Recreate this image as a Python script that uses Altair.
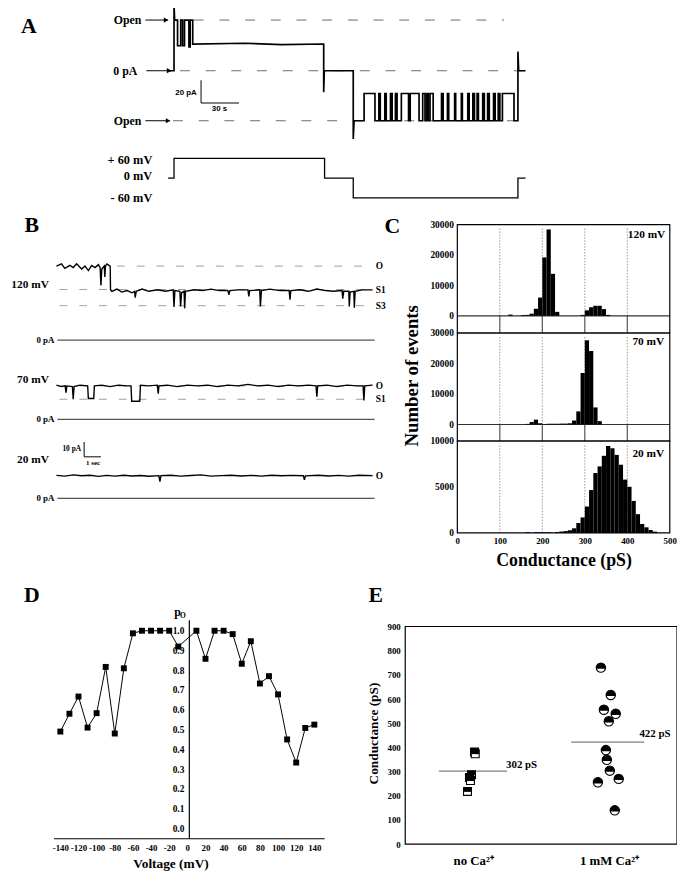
import altair as alt
import pandas as pd

SERIF = "Liberation Serif"
SANS = "Liberation Sans"
M = 8            # page margin
W, H = 677, 868  # chart size

# ------------------------------------------------------------------ data
# Panel A: current trace (time s, current pA)
A_HEAD = [(0, 0), (4.7, 0), (4.7, 58), (5.2, 44.6), (7.5, 44.6), (7.5, 22), (10.0, 22),
          (10.0, 44.6), (11.5, 44.6), (11.5, 22), (13.0, 22), (13.0, 44.6), (16.5, 44.6),
          (16.5, 21), (17.5, 21), (17.5, 44.6), (19.5, 44.6), (19.5, 23.5), (60, 24.2),
          (90, 23.0), (123.2, 23.5), (123.2, -19), (123.7, 0), (146.6, 0), (146.6, -60),
          (147.3, -44)]
A_BURST_START = [155.2, 166.9, 171.6, 176.1, 180.0, 184.7, 191.7, 201.6, 204.8, 207.4, 216.5,
                 221.2, 226.9, 232.2, 237.3, 241.3, 244.7, 249.1, 253.0, 257.7, 261.4, 264.7]
A_BURST_END = [163.8, 168.0, 172.7, 177.4, 181.3, 190.4, 198.7, 203.4, 206.0, 209.9, 217.8,
               222.2, 227.7, 233.0, 238.4, 242.6, 245.7, 250.4, 254.3, 259.0, 262.7, 273.9]
A_OPEN_NEG, A_CLOSED_NEG = -44, -20
A_TAIL = [(277.0, -44), (277.0, 17), (277.6, 0), (283, 0)]
A_VOLT = [(0, 0), (4.7, 0), (4.7, 60), (123.9, 60), (123.9, 0), (146.6, 0), (146.6, -60),
          (277, -60), (277, 0), (283, 0)]

# Panel B: traces (time s, current pA)
B120 = [(0, 50), (0.3, 51.5), (0.5, 48.5), (0.8, 50.5), (1.0, 49), (1.2, 51.5), (1.5, 48),
        (1.7, 50), (1.9, 47), (2.1, 50.5), (2.3, 49), (2.5, 51), (2.6, 49), (2.65, 37),
        (2.7, 48), (2.85, 50), (2.88, 42.7), (2.92, 50), (3.0, 51.5), (3.2, 50), (3.22, 34),
        (3.3, 33), (3.6, 34.5), (3.9, 32.5), (4.2, 33.5), (4.5, 32), (4.65, 33), (4.69, 28.7),
        (4.75, 33), (5.1, 34.5), (5.5, 33), (6.0, 34), (6.5, 33), (6.95, 34), (7.0, 22.5),
        (7.05, 33.5), (7.35, 33), (7.39, 22.7), (7.45, 32), (7.6, 33), (7.63, 21.5), (7.68, 33),
        (8.2, 34), (8.7, 33.5), (9.2, 34.5), (9.7, 33.5), (10.2, 33.5), (10.27, 30.7),
        (10.32, 33.5), (10.8, 34), (11.4, 34), (11.45, 29.5), (11.5, 33.5), (12.1, 34),
        (12.14, 22.7), (12.2, 33.5), (12.7, 34.5), (13.3, 33.5), (13.85, 33.5), (13.9, 27.3),
        (13.95, 33.5), (14.5, 34), (15.0, 33), (15.5, 34.5), (16.0, 33.5), (16.5, 33),
        (17.0, 33.5), (17.04, 28), (17.1, 33), (17.4, 33), (17.43, 22.7), (17.48, 32.5),
        (17.7, 33), (17.73, 22), (17.78, 33), (18.2, 34), (18.82, 34)]
B70 = [(0, 23), (0.3, 22), (0.52, 22.5), (0.57, 18), (0.62, 22.5), (0.95, 22), (1.0, 13.5),
       (1.05, 22), (1.4, 23), (1.86, 22.5), (1.9, 14), (2.22, 14), (2.26, 22.5), (2.7, 23),
       (3.2, 22), (3.7, 23), (4.2, 22.5), (4.44, 22.5), (4.48, 12.2), (4.96, 12.2), (5.0, 23),
       (5.5, 22.5), (6.0, 23), (6.06, 17.3), (6.1, 22.5), (6.6, 23), (7.2, 22), (7.8, 23),
       (8.4, 22.5), (9.0, 23), (9.6, 22), (10.2, 23), (10.8, 22.5), (11.4, 23.5), (12.0, 22.5),
       (12.6, 23), (13.2, 22), (13.8, 23), (14.4, 22.5), (15.0, 23), (15.45, 22.5),
       (15.5, 15.3), (15.55, 22.5), (16.1, 23), (16.7, 22), (17.3, 23), (17.9, 22.5),
       (18.25, 22.5), (18.3, 12.7), (18.35, 22.5), (18.82, 23)]
B20 = [(0, 15.5), (0.5, 15), (1.0, 15.8), (1.5, 15.2), (2.0, 15.6), (2.5, 14.8), (3.0, 15.5),
       (3.5, 15), (4.0, 15.6), (4.5, 15.1), (5.0, 15.4), (5.5, 14.9), (6.1, 15.3), (6.16, 11.3),
       (6.22, 15.3), (6.8, 15.6), (7.4, 15), (8.0, 15.4), (8.6, 15.8), (9.2, 15), (9.8, 15.3),
       (10.4, 15.6), (11.0, 15.1), (11.6, 15.5), (12.2, 15), (12.8, 15.6), (13.4, 15.2),
       (14.0, 15.5), (14.7, 15.2), (14.76, 12.5), (14.82, 15.2), (15.6, 15.6), (16.2, 15.1),
       (16.8, 15.5), (17.4, 15), (18.0, 15.6), (18.82, 15.3)]

# Panel C: histograms (bin start pS, count), bin width 10 pS
C120_BIN = [120, 150, 160, 170, 180, 190, 200, 210, 220, 230, 290, 300, 310, 320, 330, 340, 350]
C120_CNT = [400, 250, 300, 700, 2300, 6000, 19200, 28400, 13800, 1300, 300, 1800, 2800, 3300,
            3300, 2200, 300]
C70_BIN = [160, 170, 180, 190, 200, 210, 220, 230, 240, 250, 260, 270, 280, 290, 300, 310, 320, 330]
C70_CNT = [200, 800, 1600, 400, 100, 250, 250, 250, 300, 300, 400, 1300, 4300, 16900, 27600,
           24100, 5600, 1100]
C20_BIN = [160, 180, 190, 200, 210, 230, 240, 250, 260, 270, 280, 290, 300, 310, 320, 330, 340,
           350, 360, 370, 380, 390, 400, 410, 420, 430, 440, 450, 460]
C20_CNT = [70, 70, 70, 70, 70, 100, 150, 200, 290, 500, 1075, 1685, 2870, 4660, 6520, 7240, 8390,
           9460, 9210, 8490, 7420, 5800, 5020, 3480, 2040, 970, 610, 320, 140]
BIN_W = 10

# Panel D: open probability vs voltage
D_VOLT = [-140, -130, -120, -110, -100, -90, -80, -70, -60, -50, -40, -30, -20, -10,
          10, 20, 30, 40, 50, 60, 70, 80, 90, 100, 110, 120, 130, 140]
D_PO = [0.49, 0.58, 0.667, 0.51, 0.583, 0.817, 0.48, 0.81, 0.987, 1.0, 1.0, 1.0, 1.0, 0.92,
        1.0, 0.858, 1.0, 1.0, 0.983, 0.833, 0.947, 0.733, 0.77, 0.678, 0.45, 0.333, 0.508, 0.525]

# Panel E: single-channel conductances (jittered x position, pS)
E_NOCA_X = [1.02, 1.03, 0.975, 0.945, 0.96, 0.916]
E_NOCA_G = [381, 374, 287, 276, 263, 218]
E_CA_X = [2.88, 3.025, 2.924, 3.098, 2.996, 2.953, 2.967, 3.011, 2.836, 3.142, 3.084]
E_CA_G = [730, 617, 556, 539, 508, 389, 349, 304, 256, 270, 140]
E_MEANS = [302, 422]

# ------------------------------------------------------------------ helpers
layers = []


def sc(domain, p0, p1):
    return alt.Scale(domain=list(domain), range=[p0 - M, p1 - M], nice=False, zero=False)


def X(field, scale, axis=None):
    return alt.X(field, type="quantitative", scale=scale, axis=axis)


def Y(field, scale, axis=None):
    return alt.Y(field, type="quantitative", scale=scale, axis=axis)


def add_line(pts, xs, ys, color="black", width=1.3):
    df = pd.DataFrame(pts, columns=["x", "y"])
    df["k"] = range(len(df))
    layers.append(alt.Chart(df).mark_line(color=color, strokeWidth=width).encode(
        x=X("x", xs), y=Y("y", ys), order=alt.Order("k:Q")))


def add_rules(rows, xs, ys, color="black", width=1.2, dash=None):
    df = pd.DataFrame(rows, columns=["x", "x2", "y", "y2"])
    kw = dict(color=color, strokeWidth=width)
    if dash:
        kw["strokeDash"] = dash
    layers.append(alt.Chart(df).mark_rule(**kw).encode(
        x=X("x", xs), x2="x2", y=Y("y", ys), y2="y2"))


def add_text(rows, xs, ys, align="center", baseline="middle", size=12, font=SERIF,
             weight="bold", angle=None):
    df = pd.DataFrame(rows, columns=["x", "y", "label"])
    kw = dict(align=align, baseline=baseline, fontSize=size, font=font, fontWeight=weight,
              color="black")
    if angle is not None:
        kw["angle"] = angle
    layers.append(alt.Chart(df).mark_text(**kw).encode(
        x=X("x", xs), y=Y("y", ys), text="label:N"))


def add_box(x0, x1, y0, y1, xs, ys, xaxis=None, yaxis=None):
    df = pd.DataFrame({"x": [x0], "x2": [x1], "y": [y0], "y2": [y1]})
    layers.append(alt.Chart(df).mark_rect(fill="white", fillOpacity=0, stroke="black",
                                          strokeWidth=1.2).encode(
        x=X("x", xs, xaxis), x2="x2", y=Y("y", ys, yaxis), y2="y2"))


def add_bars(bins, counts, xs, ys):
    df = pd.DataFrame({"x": bins, "c": counts})
    df["x2"] = df["x"] + BIN_W
    df["y0"] = 0
    layers.append(alt.Chart(df).mark_rect(color="black").encode(
        x=X("x", xs), x2="x2", y=Y("y0", ys), y2="c"))


def add_points(xv, yv, xs, ys, shape, size, filled_color, stroke=None):
    df = pd.DataFrame({"x": xv, "y": yv})
    kw = dict(shape=shape, size=size, filled=True, fill=filled_color, opacity=1)
    if stroke:
        kw.update(stroke=stroke, strokeWidth=1.1)
    else:
        kw.update(strokeWidth=0)
    layers.append(alt.Chart(df).mark_point(**kw).encode(x=X("x", xs), y=Y("y", ys)))


def left_axis(px, values, size=9.5, pad=4, domain=False, fmt="d"):
    kw = dict(orient="left", offset=-(px - M), values=values, tickSize=0, labelPadding=pad,
              labelFontSize=size, domain=domain, grid=False, title=None, labelOverlap=False,
              labelFlush=False, format=fmt)
    if domain:
        kw.update(domainColor="black", domainWidth=1.2)
    return alt.Axis(**kw)


# ------------------------------------------------------------------ panel A
A_X = sc([0, 283], 170, 531.7)
A_I = sc([-60, 60], 135.3, -2.7)
A_V = sc([-60, 60], 195, 155)

add_rules([(20.3, 266, 44.6, 44.6), (9.4, 281.7, 0, 0), (3.9, 276, -44, -44)], A_X, A_I,
          color="#444", width=0.8, dash=[10, 16])
a_pts = list(A_HEAD)
for s, e in zip(A_BURST_START, A_BURST_END):
    a_pts += [(s, A_OPEN_NEG), (s, A_CLOSED_NEG), (e, A_CLOSED_NEG), (e, A_OPEN_NEG)]
a_pts += A_TAIL
add_line(a_pts, A_X, A_I, width=1.7)
add_rules([(-18, 0, 44.6, 44.6), (-17.2, 2.3, 0, 0), (-18, 1.6, -44, -44)], A_X, A_I, width=1)
layers.append(alt.Chart(pd.DataFrame({"x": [-1.6, 0.8, 0.0], "y": [44.6, 0, -44]}))
              .mark_point(shape="triangle-right", size=28, filled=True, color="black", opacity=1)
              .encode(x=X("x", A_X), y=Y("y", A_I)))
add_text([(-21.1, 44.6, "Open"), (-24.3, 0, "0 pA"), (-21.1, -44, "Open")], A_X, A_I,
         align="right", size=12)
add_text([(-110.3, 39.4, "A")], A_X, A_I, size=22)
add_rules([(26.1, 26.1, -8.4, -28.4), (26.1, 56.1, -28.4, -28.4)], A_X, A_I, width=1)
add_text([(22.7, -19.7, "20 pA")], A_X, A_I, align="right", size=8, font=SANS)
add_text([(40.7, -33.7, "30 s")], A_X, A_I, align="center", size=8, font=SANS)
add_line(A_VOLT, A_X, A_V, width=1.3)
add_text([(-12.5, 54, "+ 60 mV"), (-12.5, 6, "0 mV"), (-12.5, -60, "- 60 mV")], A_X, A_V,
         align="right", size=12.5)

# ------------------------------------------------------------------ panel B
B_X = sc([0, 18.82], 57, 377)
B_Y120 = sc([0, 60], 339, 249)
B_Y70 = sc([0, 60], 419, 329)
B_Y20 = sc([0, 60], 499, 409)

DASH_B = dict(color="#888", width=0.8, dash=[8, 12])
add_rules([(3.6, 18.82, 50, 50), (0.18, 18.82, 34.2, 34.2), (0.18, 18.82, 23.3, 23.3)],
          B_X, B_Y120, **DASH_B)
add_rules([(0.18, 18.82, 22.5, 22.5), (0.18, 18.82, 13.5, 13.5)], B_X, B_Y70, **DASH_B)
for ys in (B_Y120, B_Y70, B_Y20):
    add_rules([(0.06, 18.94, 0, 0)], B_X, ys, color="#555", width=1.3)
add_line(B120, B_X, B_Y120, width=1.4)
add_line(B70, B_X, B_Y70, width=1.4)
add_line(B20, B_X, B_Y20, width=1.4)
add_text([(19.0, 50, "O"), (19.0, 34, "S1"), (19.0, 23, "S3")], B_X, B_Y120, align="left",
         size=9.5)
add_text([(19.0, 22.5, "O"), (19.0, 13.5, "S1")], B_X, B_Y70, align="left", size=9.5)
add_text([(19.0, 15.3, "O")], B_X, B_Y20, align="left", size=9.5)
add_text([(-0.45, 37.3, "120 mV")], B_X, B_Y120, align="right", size=11.5)
add_text([(-0.45, 26.7, "70 mV")], B_X, B_Y70, align="right", size=11.5)
add_text([(-0.45, 26, "20 mV")], B_X, B_Y20, align="right", size=11.5)
for ys in (B_Y120, B_Y70, B_Y20):
    add_text([(-0.12, 0, "0 pA")], B_X, ys, align="right", size=9)
add_text([(-1.47, 78, "B")], B_X, B_Y120, size=22)
add_rules([(1.65, 1.65, 28, 38), (1.65, 2.65, 28, 28)], B_X, B_Y20, width=1)
add_text([(1.47, 33.3, "10 pA")], B_X, B_Y20, align="right", size=7.5)
add_text([(2.18, 24, "1 sec")], B_X, B_Y20, align="center", size=7)

# ------------------------------------------------------------------ panel C
C_X = sc([0, 500], 462.7, 677.7)
C_Y1 = sc([-5655, 30000], 331.7, 222)
C_Y2 = sc([-5410, 30000], 441, 331.7)
C_Y3 = sc([0, 10000], 534, 441)
GRID_X = [100, 200, 300, 400]

for ys, top in ((C_Y1, 29000), (C_Y2, 29000), (C_Y3, 9700)):
    add_rules([(g, g, 0, top) for g in GRID_X], C_X, ys, color="#999", width=1, dash=[1.5, 1.5])
for ys, bottom in ((C_Y1, -5655), (C_Y2, -5410)):
    add_rules([(g, g, 0, bottom) for g in GRID_X], C_X, ys, color="#555", width=1.2)
    add_rules([(0, 500, 0, 0)], C_X, ys, color="#333", width=1.2)
add_bars(C120_BIN, C120_CNT, C_X, C_Y1)
add_bars(C70_BIN, C70_CNT, C_X, C_Y2)
add_bars(C20_BIN, C20_CNT, C_X, C_Y3)
add_box(0, 500, -5655, 30000, C_X, C_Y1,
        yaxis=left_axis(462.7, [0, 10000, 20000, 30000]))
add_box(0, 500, -5410, 30000, C_X, C_Y2,
        yaxis=left_axis(462.7, [0, 10000, 20000, 30000]))
add_box(0, 500, 0, 10000, C_X, C_Y3,
        xaxis=alt.Axis(orient="bottom", offset=(534 - M) - H, values=[0, 100, 200, 300, 400, 500],
                       tickSize=0, labelPadding=4, labelFontSize=9, domain=False, grid=False,
                       labelOverlap=False, labelFlush=False, title="Conductance (pS)",
                       titleFontSize=18, titlePadding=6, format="d"),
        yaxis=left_axis(462.7, [0, 5000, 10000]))
add_text([(489.5, 26425, "120 mV")], C_X, C_Y1, align="right", size=11.5)
add_text([(487, 27000, "70 mV")], C_X, C_Y2, align="right", size=11.5)
add_text([(487, 8600, "20 mV")], C_X, C_Y3, align="right", size=11.5)
add_text([(-152.8, 29350, "C")], C_X, C_Y1, size=22)
add_text([(-107.4, 15970, "Number of events")], C_X, C_Y2, size=19, angle=270)

# ------------------------------------------------------------------ panel D
D_X = sc([-147.6, 150.9], 54, 328)
D_Y = sc([-0.05, 1.055], 843, 622)
d_df = pd.DataFrame({"x": D_VOLT, "y": D_PO})
layers.append(alt.Chart(d_df).mark_line(color="black", strokeWidth=1).encode(
    x=X("x", D_X, alt.Axis(orient="bottom", offset=(843 - M) - H,
                          values=list(range(-140, 141, 20)), tickSize=0, labelPadding=5,
                          labelFontSize=9, domain=True, domainColor="black", domainWidth=1.2,
                          grid=False, title=None, labelOverlap=False, labelFlush=False,
                          labelExpr="datum.value < 0 ? '-' + abs(datum.value) : '' + datum.value")),
    y=Y("y", D_Y, left_axis(191, [0, 0.1, 0.2, 0.3, 0.4, 0.5, 0.6, 0.7, 0.8, 0.9, 1.0],
                            size=9.5, pad=5, domain=True, fmt=".1f"))))
add_points(D_VOLT, D_PO, D_X, D_Y, "square", 36, "black")
add_text([(-171.5, 1.18, "D")], D_X, D_Y, size=22)
add_text([(-10.9, 1.095, "p")], D_X, D_Y, size=12)
add_text([(-4.9, 1.0725, "O")], D_X, D_Y, size=7.5)
add_text([(-18, -0.18, "Voltage (mV)")], D_X, D_Y, size=13.5)

# ------------------------------------------------------------------ panel E
E_X = sc([0, 4], 410, 685)
E_Y = sc([0, 900], 849, 628.7)
add_box(0, 4, 0, 900, E_X, E_Y,
        xaxis=alt.Axis(orient="bottom", offset=(849 - M) - H, values=[1, 3], tickSize=0,
                       labelPadding=11, labelFontSize=13, domain=False, grid=False, title=None,
                       labelOverlap=False, labelFlush=False,
                       labelExpr="datum.value == 1 ? 'no Ca²⁺' : '1 mM Ca²⁺'"),
        yaxis=left_axis(410, list(range(0, 901, 100)), size=9, pad=5))
add_rules([(0.495, 1.498, E_MEANS[0], E_MEANS[0]), (2.444, 3.52, E_MEANS[1], E_MEANS[1])],
          E_X, E_Y, color="#808080", width=1.3)
add_text([(1.484, 327, f"{E_MEANS[0]} pS"), (3.447, 453.5, f"{E_MEANS[1]} pS")], E_X, E_Y,
         align="left", size=11)
SQ_TOP = "M-1,-1L1,-1L1,0.1L-1,0.1Z"
CIRC_TOP = "M-0.968,0.25A1,1,0,1,1,0.968,0.25Z"
add_points(E_NOCA_X, E_NOCA_G, E_X, E_Y, "square", 64, "white", stroke="black")
add_points(E_NOCA_X, E_NOCA_G, E_X, E_Y, SQ_TOP, 64, "black")
add_points(E_CA_X, E_CA_G, E_X, E_Y, "circle", 90, "white", stroke="black")
add_points(E_CA_X, E_CA_G, E_X, E_Y, CIRC_TOP, 90, "black")
add_text([(-0.436, 1029.5, "E")], E_X, E_Y, size=22)
add_text([(-0.465, 457.5, "Conductance (pS)")], E_X, E_Y, size=13.5, angle=270)

# ------------------------------------------------------------------ assemble
chart = (
    alt.layer(*layers)
    .resolve_scale(x="independent", y="independent")
    .properties(width=W, height=H, autosize=alt.AutoSizeParams(type="none"), padding=0)
    .configure_view(stroke=None)
    .configure_axis(labelFont=SERIF, labelFontWeight="bold", labelColor="black",
                    titleFont=SERIF, titleFontWeight="bold", titleColor="black")
)
chart.save("out.html", embed_options={"renderer": "svg", "actions": False})
